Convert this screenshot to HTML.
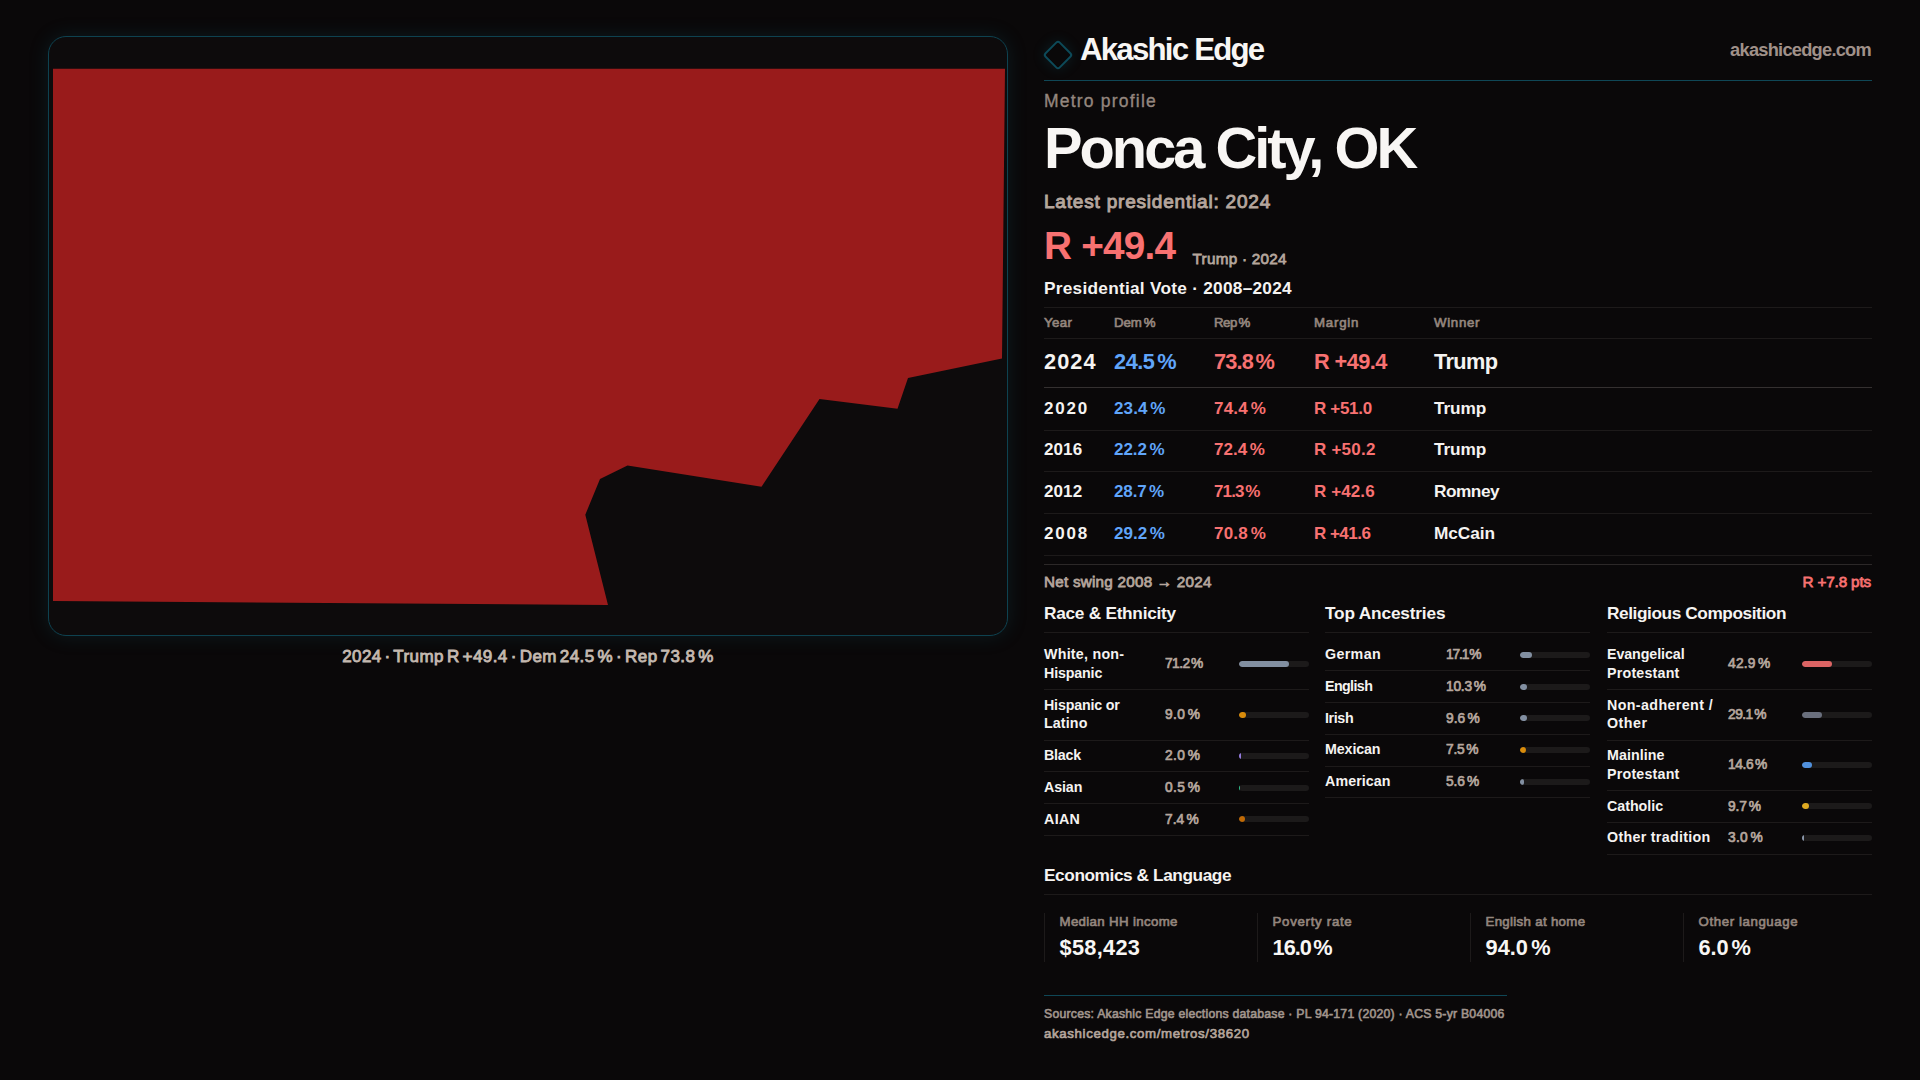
<!DOCTYPE html>
<html lang="en">
<head>
<meta charset="utf-8">
<title>Ponca City, OK — Metro profile — Akashic Edge</title>
<style>
*{box-sizing:border-box;margin:0;padding:0}
html,body{width:1920px;height:1080px;overflow:hidden;background:#0a0809}
body{font-family:"Liberation Sans",sans-serif;color:#f5f3f1;position:relative}
.m,.l,.r,.s{font-weight:normal}
.s{-webkit-text-stroke:.05em currentColor}
.m{-webkit-text-stroke:.035em currentColor}
.l{-webkit-text-stroke:.02em currentColor}
.b{font-weight:bold}

/* map */
.map{position:absolute;left:48px;top:36px;width:960px;height:600px;border:1px solid #0e4250;border-radius:18px;background:#0d0b0c;
 box-shadow:0 0 20px rgba(20,110,130,.18);overflow:hidden}
.map svg{position:absolute;left:-1px;top:-1px;width:960px;height:600px;display:block}
.cap{position:absolute;left:48px;width:960px;top:646px;height:22px;line-height:22px;text-align:center;color:#c4b9b0;white-space:nowrap}

/* panel */
.panel{position:absolute;left:1044px;top:0;width:828px;height:1080px}
.hdr{position:absolute;left:0;top:0;width:828px;height:81px;border-bottom:1px solid #0f4756}
.logo{position:absolute;left:3px;top:44.3px;width:22px;height:22px;border:2px solid #0d4a59;border-radius:3.5px;transform:rotate(45deg);box-shadow:0 0 14px rgba(20,120,140,.2)}
.brand{position:absolute;left:36px;top:32.6px;line-height:34px;color:#f8f6f4;white-space:nowrap}
.site{position:absolute;right:1px;top:40px;line-height:20px;color:#a09189;white-space:nowrap}
.eyebrow{position:absolute;left:0;top:90px;line-height:22px;color:#94867e;white-space:nowrap}
h1{position:absolute;left:0;top:112.9px;line-height:70px;color:#f8f6f4;white-space:nowrap}
.latest{position:absolute;left:0;top:190px;line-height:24px;color:#b5a69d;white-space:nowrap}
.big{position:absolute;left:0;top:222px;line-height:48px;color:#f87171;white-space:nowrap}
.bigsub{position:absolute;left:148.5px;top:248.5px;line-height:20px;color:#b5a69d;white-space:nowrap}
.sec{position:absolute;line-height:22px;color:#f5f3f1;white-space:nowrap}

/* table */
table{position:absolute;left:0;top:307px;width:828px;border-collapse:collapse;table-layout:fixed}
th,td{text-align:left;padding:0;white-space:nowrap;vertical-align:baseline}
th{height:31px;line-height:16px;padding-top:7px;color:#94867e;border-top:1px solid #1d1a1a;border-bottom:1px solid #1d1a1a}
td{color:#f5f3f1;border-bottom:1px solid #1d1a1a}
tr.r td{height:42px;line-height:20px;padding-top:9.1px}
tr.r1 td{height:43px;padding-top:10.2px}
tr.r2 td{height:41px;padding-top:8.1px}
tr.top td{height:49px;line-height:26px;padding-top:10px;border-bottom:1px solid #343030}
td.d{color:#60a5fa}td.rp{color:#f87171}
.swing{position:absolute;left:0;top:564px;width:828px;height:36px;border-top:1px solid #2c2828;line-height:33px;color:#b5a69d;white-space:nowrap}
.swing b{position:absolute;right:1px;top:0;color:#f87171}

/* breakdown columns */
.col{position:absolute;top:602px;width:265px}
.col h2{line-height:22px;color:#f5f3f1;height:31px;border-bottom:1px solid #1d1a1a;white-space:nowrap;margin-bottom:6.5px}
.row{display:flex;align-items:center;border-bottom:1px solid #1d1a1a;height:31.75px}
.row.two{height:50.5px}
.row .lab{flex:0 0 121px;position:relative;top:-.3px;line-height:18.7px;color:#f5f3f1;white-space:nowrap}
.row.two .lab{top:-.5px}
.row .v{flex:0 0 74px;position:relative;top:-.3px;line-height:19px;color:#b5a69d;white-space:nowrap}
.row .t{flex:0 0 70px;height:6px;border-radius:3px;background:#1c1a1a;overflow:hidden}
.row .t i{display:block;height:6px;border-radius:3px}

/* economics */
.eco{position:absolute;left:0;top:864px;width:828px;height:31px;border-bottom:1px solid #1d1a1a}
.stat{position:absolute;top:913px;width:213px;height:49px;border-left:1px solid #1d1a1a;padding-left:14.5px;padding-top:1px}
.stat span{display:block;line-height:16px;color:#94867e;white-space:nowrap}
.stat strong{display:block;line-height:28px;margin-top:3.8px;color:#f8f6f4;white-space:nowrap}
.foot{position:absolute;left:0;top:995px;border-top:1px solid #0f4756;padding-top:8px;white-space:nowrap;width:463px}
.foot p{position:relative;top:1px;line-height:18px;color:#a1958d}
.foot a{display:block;line-height:22px;color:#b5a69d;text-decoration:none;margin-top:1px}
</style>
</head>
<body>

<section class="map">
<svg viewBox="0 0 960 600" aria-label="Ponca City metro map">
<polygon fill="#991b1b" points="5,32.7 957,32.7 954,322.5 860,342 849.5,372.7 771.5,363 713.5,450.7 579.5,429.5 552,443 537.3,478.7 560,569 5,565"/>
</svg>
</section>
<div class="cap s" style="font-size:17px;letter-spacing:0.43px;word-spacing:-2.21px;">2024 · Trump R +49.4 · Dem 24.5 % · Rep 73.8 %</div>

<main class="panel">
<header class="hdr">
<div class="logo"></div>
<div class="brand b" style="font-size:31.25px;letter-spacing:-1.8px;">Akashic Edge</div>
<div class="site b" style="font-size:18.25px;letter-spacing:-0.75px;">akashicedge.com</div>
</header>
<div class="eyebrow l" style="font-size:17.5px;letter-spacing:1.21px;">Metro profile</div>
<h1 class="b" style="font-size:57.75px;letter-spacing:-2.98px;">Ponca City, OK</h1>
<div class="latest s" style="font-size:19px;letter-spacing:0.8px;">Latest presidential: 2024</div>
<div class="big b" style="font-size:38.75px;letter-spacing:-0.78px;">R +49.4</div>
<div class="bigsub s" style="font-size:15.25px;letter-spacing:0.28px;">Trump · 2024</div>
<div class="sec b" style="font-size:17.25px;letter-spacing:0.26px;left:0;top:277px">Presidential Vote · 2008–2024</div>

<table>
<colgroup><col style="width:70px"><col style="width:100px"><col style="width:100px"><col style="width:120px"><col></colgroup>
<thead><tr><th class="s" style="font-size:13.25px;letter-spacing:0.39px;">Year</th><th class="s" style="font-size:13.25px;letter-spacing:-0.07px;word-spacing:-1.72px;">Dem %</th><th class="s" style="font-size:13.25px;letter-spacing:-0.47px;word-spacing:-1.72px;">Rep %</th><th class="s" style="font-size:13.25px;letter-spacing:0.79px;">Margin</th><th class="s" style="font-size:13.25px;letter-spacing:0.69px;">Winner</th></tr></thead>
<tbody>
<tr class="top"><td class="b" style="font-size:21.75px;letter-spacing:1.07px;">2024</td><td class="d b" style="font-size:21.75px;letter-spacing:-0.46px;word-spacing:-2.83px;">24.5 %</td><td class="rp b" style="font-size:21.75px;letter-spacing:-0.81px;word-spacing:-2.83px;">73.8 %</td><td class="rp b" style="font-size:21.75px;letter-spacing:-0.57px;">R +49.4</td><td class="b" style="font-size:21.75px;letter-spacing:-0.59px;">Trump</td></tr>
<tr class="r r1"><td class="b" style="font-size:17px;letter-spacing:1.76px;">2020</td><td class="d b" style="font-size:17px;letter-spacing:0.13px;word-spacing:-2.21px;">23.4 %</td><td class="rp b" style="font-size:17px;letter-spacing:0.23px;word-spacing:-2.21px;">74.4 %</td><td class="rp b" style="font-size:17px;letter-spacing:-0.32px;">R +51.0</td><td class="b" style="font-size:17.25px;letter-spacing:-0.09px;">Trump</td></tr>
<tr class="r r2"><td class="b" style="font-size:17px;letter-spacing:0.09px;">2016</td><td class="d b" style="font-size:17px;letter-spacing:-0.02px;word-spacing:-2.21px;">22.2 %</td><td class="rp b" style="font-size:17px;letter-spacing:0.03px;word-spacing:-2.21px;">72.4 %</td><td class="rp b" style="font-size:17px;letter-spacing:0.22px;">R +50.2</td><td class="b" style="font-size:17.25px;letter-spacing:-0.09px;">Trump</td></tr>
<tr class="r"><td class="b" style="font-size:17px;letter-spacing:0.09px;">2012</td><td class="d b" style="font-size:17px;letter-spacing:-0.12px;word-spacing:-2.21px;">28.7 %</td><td class="rp b" style="font-size:17px;letter-spacing:-0.87px;word-spacing:-2.21px;">71.3 %</td><td class="rp b" style="font-size:17px;letter-spacing:0.1px;">R +42.6</td><td class="b" style="font-size:17.25px;letter-spacing:-0.49px;">Romney</td></tr>
<tr class="r"><td class="b" style="font-size:17px;letter-spacing:1.76px;">2008</td><td class="d b" style="font-size:17px;letter-spacing:0.03px;word-spacing:-2.21px;">29.2 %</td><td class="rp b" style="font-size:17px;letter-spacing:0.23px;word-spacing:-2.21px;">70.8 %</td><td class="rp b" style="font-size:17px;letter-spacing:-0.53px;">R +41.6</td><td class="b" style="font-size:17.25px;letter-spacing:-0.05px;">McCain</td></tr>
</tbody>
</table>
<div class="swing"><span class="s" style="font-size:15.25px;letter-spacing:0.23px;">Net swing 2008 → 2024</span><b class="s" style="font-size:15.25px;letter-spacing:-0.15px;">R +7.8 pts</b></div>

<section class="col" style="left:0">
<h2 class="b" style="font-size:17.25px;letter-spacing:-0.27px;">Race &amp; Ethnicity</h2>
<div class="row two"><span class="lab"><span class="b" style="font-size:14.25px;letter-spacing:0.25px;">White, non-</span><br><span class="b" style="font-size:14.25px;letter-spacing:-0.15px;">Hispanic</span></span><span class="v s" style="font-size:13.75px;letter-spacing:-0.57px;word-spacing:-1.79px;">71.2 %</span><span class="t"><i style="width:50px;background:#828fa1"></i></span></div>
<div class="row two"><span class="lab"><span class="b" style="font-size:14.25px;letter-spacing:-0.18px;">Hispanic or</span><br><span class="b" style="font-size:14.25px;letter-spacing:0.12px;">Latino</span></span><span class="v s" style="font-size:13.75px;letter-spacing:0.39px;word-spacing:-1.79px;">9.0 %</span><span class="t"><i style="width:6.6px;background:#d98c0b"></i></span></div>
<div class="row"><span class="lab"><span class="b" style="font-size:14.25px;letter-spacing:-0.23px;">Black</span></span><span class="v s" style="font-size:13.75px;letter-spacing:0.39px;word-spacing:-1.79px;">2.0 %</span><span class="t"><i style="width:2px;background:#947bdd;border-radius:0"></i></span></div>
<div class="row"><span class="lab"><span class="b" style="font-size:14.25px;letter-spacing:-0.11px;">Asian</span></span><span class="v s" style="font-size:13.75px;letter-spacing:0.39px;word-spacing:-1.79px;">0.5 %</span><span class="t"><i style="width:1px;background:#2fbb88;border-radius:0"></i></span></div>
<div class="row"><span class="lab"><span class="b" style="font-size:14.25px;letter-spacing:0.34px;">AIAN</span></span><span class="v s" style="font-size:13.75px;letter-spacing:0.07px;word-spacing:-1.79px;">7.4 %</span><span class="t"><i style="width:5.6px;background:#c06a06"></i></span></div>
</section>

<section class="col" style="left:281px">
<h2 class="b" style="font-size:17.25px;letter-spacing:-0.17px;">Top Ancestries</h2>
<div class="row"><span class="lab"><span class="b" style="font-size:14.25px;letter-spacing:0.35px;">German</span></span><span class="v s" style="font-size:13.75px;letter-spacing:-1.12px;word-spacing:-1.79px;">17.1 %</span><span class="t"><i style="width:12px;background:#828fa1"></i></span></div>
<div class="row"><span class="lab"><span class="b" style="font-size:14.25px;letter-spacing:-0.6px;">English</span></span><span class="v s" style="font-size:13.75px;letter-spacing:-0.22px;word-spacing:-1.79px;">10.3 %</span><span class="t"><i style="width:7.2px;background:#828fa1"></i></span></div>
<div class="row"><span class="lab"><span class="b" style="font-size:14.25px;letter-spacing:-0.37px;">Irish</span></span><span class="v s" style="font-size:13.75px;letter-spacing:0.07px;word-spacing:-1.79px;">9.6 %</span><span class="t"><i style="width:6.6px;background:#828fa1"></i></span></div>
<div class="row"><span class="lab"><span class="b" style="font-size:14.25px;letter-spacing:-0.11px;">Mexican</span></span><span class="v s" style="font-size:13.75px;letter-spacing:-0.24px;word-spacing:-1.79px;">7.5 %</span><span class="t"><i style="width:5.6px;background:#d98c0b"></i></span></div>
<div class="row"><span class="lab"><span class="b" style="font-size:14.25px;letter-spacing:0.09px;">American</span></span><span class="v s" style="font-size:13.75px;letter-spacing:-0.05px;word-spacing:-1.79px;">5.6 %</span><span class="t"><i style="width:4.2px;background:#828fa1"></i></span></div>
</section>

<section class="col" style="left:563px">
<h2 class="b" style="font-size:17.25px;letter-spacing:-0.42px;">Religious Composition</h2>
<div class="row two"><span class="lab"><span class="b" style="font-size:14.25px;letter-spacing:-0.08px;">Evangelical</span><br><span class="b" style="font-size:14.25px;letter-spacing:0.21px;">Protestant</span></span><span class="v s" style="font-size:13.75px;letter-spacing:0.23px;word-spacing:-1.79px;">42.9 %</span><span class="t"><i style="width:30px;background:#dc6464"></i></span></div>
<div class="row two"><span class="lab"><span class="b" style="font-size:14.25px;letter-spacing:0.39px;">Non-adherent /</span><br><span class="b" style="font-size:14.25px;letter-spacing:0.52px;">Other</span></span><span class="v s" style="font-size:13.75px;letter-spacing:-0.52px;word-spacing:-1.79px;">29.1 %</span><span class="t"><i style="width:20.4px;background:#6a6f7d"></i></span></div>
<div class="row two"><span class="lab"><span class="b" style="font-size:14.25px;letter-spacing:0.05px;">Mainline</span><br><span class="b" style="font-size:14.25px;letter-spacing:0.21px;">Protestant</span></span><span class="v s" style="font-size:13.75px;letter-spacing:-0.37px;word-spacing:-1.79px;">14.6 %</span><span class="t"><i style="width:10.4px;background:#5090dc"></i></span></div>
<div class="row"><span class="lab"><span class="b" style="font-size:14.25px;letter-spacing:-0.02px;">Catholic</span></span><span class="v s" style="font-size:13.75px;letter-spacing:-0.11px;word-spacing:-1.79px;">9.7 %</span><span class="t"><i style="width:7px;background:#dea921"></i></span></div>
<div class="row"><span class="lab"><span class="b" style="font-size:14.25px;letter-spacing:0.3px;">Other tradition</span></span><span class="v s" style="font-size:13.75px;letter-spacing:0.32px;word-spacing:-1.79px;">3.0 %</span><span class="t"><i style="width:2.4px;background:#8a96a9;border-radius:0"></i></span></div>
</section>

<div class="eco"><div class="sec b" style="font-size:17.25px;letter-spacing:-0.42px;left:0;top:0">Economics &amp; Language</div></div>
<div class="stat" style="left:0px"><span class="s" style="font-size:13.25px;letter-spacing:0.35px;">Median HH income</span><strong class="b" style="font-size:21.75px;letter-spacing:0.29px;">$58,423</strong></div>
<div class="stat" style="left:213px"><span class="s" style="font-size:13.25px;letter-spacing:0.71px;">Poverty rate</span><strong class="b" style="font-size:21.75px;letter-spacing:-0.96px;word-spacing:-2.83px;">16.0 %</strong></div>
<div class="stat" style="left:426px"><span class="s" style="font-size:13.25px;letter-spacing:0.32px;">English at home</span><strong class="b" style="font-size:21.75px;letter-spacing:0.04px;word-spacing:-2.83px;">94.0 %</strong></div>
<div class="stat" style="left:639px"><span class="s" style="font-size:13.25px;letter-spacing:0.6px;">Other language</span><strong class="b" style="font-size:21.75px;letter-spacing:-0.11px;word-spacing:-2.83px;">6.0 %</strong></div>

<footer class="foot">
<p class="s" style="font-size:12.25px;letter-spacing:0.23px;">Sources: Akashic Edge elections database · PL 94-171 (2020) · ACS 5-yr B04006</p>
<a class="s" style="font-size:13.25px;letter-spacing:0.64px;">akashicedge.com/metros/38620</a>
</footer>
</main>
</body>
</html>
